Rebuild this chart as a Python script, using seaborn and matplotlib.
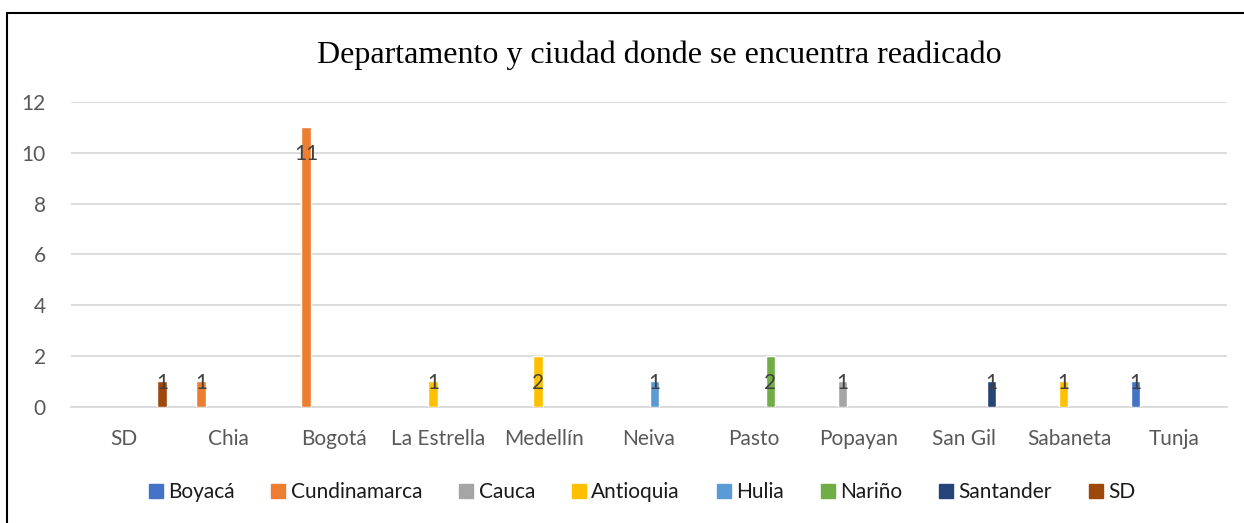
import pandas as pd
import matplotlib.pyplot as plt
import seaborn as sns
from matplotlib.lines import Line2D

# Datos
ciudades = ['SD', 'Chia', 'Bogotá', 'La Estrella', 'Medellín', 'Neiva',
            'Pasto', 'Popayan', 'San Gil', 'Sabaneta', 'Tunja']
departamento = ['SD', 'Cundinamarca', 'Cundinamarca', 'Antioquia', 'Antioquia', 'Hulia',
                'Nariño', 'Cauca', 'Santander', 'Antioquia', 'Boyacá']
cantidad = [1, 1, 11, 1, 2, 1, 2, 1, 1, 1, 1]

deptos = ['Boyacá', 'Cundinamarca', 'Cauca', 'Antioquia', 'Hulia', 'Nariño', 'Santander', 'SD']
colores = ['#4472C4', '#ED7D31', '#A5A5A5', '#FFC000', '#5B9BD5', '#70AD47', '#264478', '#9E480E']

df = pd.DataFrame({'ciudad': ciudades, 'depto': departamento, 'n': cantidad})

sns.set_style('white')
plt.rcParams['font.family'] = ['Lato', 'DejaVu Sans']

fig = plt.figure(figsize=(12.44, 5.23), dpi=100)
ax = fig.add_axes([0.057, 0.222, 0.929, 0.583])

sns.barplot(data=df, x='ciudad', y='n', hue='depto', order=ciudades, hue_order=deptos,
            palette=dict(zip(deptos, colores)), width=0.84, gap=0.15, dodge=True,
            errorbar=None, ax=ax, saturation=1, zorder=3)

# Etiquetas de valores
n_h = len(deptos)
slot = 0.84 / n_h
for i, (c, d, v) in enumerate(zip(ciudades, departamento, cantidad)):
    x = i - 0.42 + slot * (deptos.index(d) + 0.5)
    ax.text(x, max(v - 1.05, 0.95), str(v), ha='center', va='center',
            fontsize=15, color='#404040', zorder=4)

ax.set_ylim(0, 12)
ax.set_yticks(range(0, 13, 2))
ax.set_xlim(-0.5, len(ciudades) - 0.5)
ax.yaxis.grid(True, color='#D9D9D9', linewidth=1.3, zorder=0)
ax.set_axisbelow(True)
for s in ['top', 'right', 'left']:
    ax.spines[s].set_visible(False)
ax.spines['bottom'].set_color('#D9D9D9')
ax.spines['bottom'].set_linewidth(1.3)
ax.tick_params(axis='both', length=0, labelsize=15, labelcolor='#595959')
ax.tick_params(axis='y', pad=18)
ax.tick_params(axis='x', pad=16)
ax.set_xlabel('')
ax.set_ylabel('')

ax.get_legend().remove()
handles = [Line2D([], [], marker='s', linestyle='', markersize=10,
                  markerfacecolor=c, markeredgecolor=c) for c in colores]
fig.legend(handles, deptos, loc='center', bbox_to_anchor=(0.516, 0.059), ncol=8,
           frameon=False, fontsize=15, handletextpad=0.25, columnspacing=1.75,
           handlelength=0.7, labelcolor='#1a1a1a')

fig.text(0.53, 0.894, 'Departamento y ciudad donde se encuentra readicado',
         ha='center', va='center', fontsize=23, family='Liberation Serif', color='black')

# Marco del gráfico
fig.add_artist(Line2D([7 / 1244, 7 / 1244], [0, 1 - 13 / 523], transform=fig.transFigure,
                      color='black', linewidth=1.5))
fig.add_artist(Line2D([7 / 1244, 1], [1 - 13 / 523, 1 - 13 / 523], transform=fig.transFigure,
                      color='black', linewidth=1.5))

plt.savefig('out.png', dpi=100)
